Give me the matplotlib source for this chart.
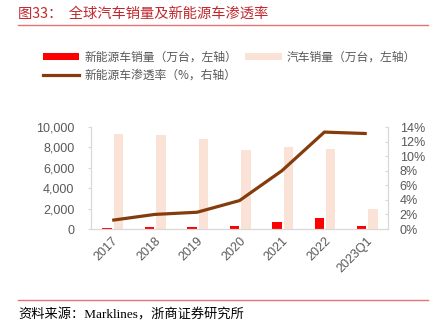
import matplotlib
matplotlib.use("Agg")
import matplotlib.pyplot as plt
import numpy as np
from matplotlib.patches import Patch
from matplotlib.lines import Line2D
from matplotlib.ticker import FuncFormatter

plt.rcParams['font.family'] = ['Liberation Sans', 'Noto Sans CJK SC', 'DejaVu Sans']

categories = ['2017', '2018', '2019', '2020', '2021', '2022', '2023Q1']
nev_sales = [120, 200, 220, 310, 650, 1050, 250]
auto_sales = [9270, 9250, 8850, 7700, 8050, 7860, 1970]
penetration = [1.2, 2.0, 2.3, 3.9, 8.0, 13.3, 13.1]

NEV_C = '#FF0000'
AUTO_C = '#FAE3D6'
LINE_C = '#843C0C'
GRAY = '#595959'
SPINE = '#D9D9D9'

fig = plt.figure(figsize=(4.47, 3.29), dpi=100)
ax = fig.add_axes([91/447, 1-229/329, 297/447, 102/329])
ax2 = ax.twinx()

x = np.arange(len(categories))
w = 0.22
ax.bar(x - 0.12, nev_sales, width=w, color=NEV_C, zorder=2)
ax.bar(x + 0.15, auto_sales, width=w, color=AUTO_C, zorder=2)
ax2.plot(x, penetration, color=LINE_C, lw=2.3, solid_capstyle='butt', zorder=3)

ax.set_xlim(-0.5, len(categories) - 0.5)
ax.set_ylim(0, 10000)
ax.set_yticks(np.arange(0, 10001, 2000))
ax.yaxis.set_major_formatter(FuncFormatter(lambda v, p: f'{int(v):,}'))
ax2.set_ylim(0, 14)
ax2.set_yticks(np.arange(0, 15, 2))
ax2.yaxis.set_major_formatter(FuncFormatter(lambda v, p: f'{int(v)}%'))

ax.set_xticks(x)
ax.set_xticklabels(categories, rotation=45, ha='right', rotation_mode='anchor')

for a in (ax, ax2):
    a.spines['top'].set_visible(False)
    for s in ('left', 'right', 'bottom'):
        a.spines[s].set_color(SPINE)
        a.spines[s].set_linewidth(0.8)
ax.tick_params(axis='y', direction='out', length=2.5, color=SPINE, labelsize=9, labelcolor=GRAY, pad=9.5)
ax.tick_params(axis='x', length=0, labelsize=9, labelcolor=GRAY, pad=4)
ax2.tick_params(axis='y', direction='in', length=2.5, color=SPINE, labelsize=9, labelcolor=GRAY, pad=8.5)

handles = [Patch(facecolor=NEV_C), Line2D([0], [0], color=LINE_C, lw=2.3),
           Patch(facecolor=AUTO_C)]
labels = ['新能源车销量（万台，左轴）', '新能源车渗透率（%，右轴）', '汽车销量（万台，左轴）']
leg = fig.legend(handles, labels, ncol=2, loc='upper left', bbox_to_anchor=(38/447, 1-46/329),
                 frameon=False, prop={'family': ['Noto Sans CJK SC'], 'size': 8.5},
                 handlelength=3.1, handleheight=0.55, handletextpad=0.4, columnspacing=0.7,
                 labelspacing=0.45, labelcolor=GRAY, borderaxespad=0)

fig.text(18/447, 1-14/329, '图33：  全球汽车销量及新能源车渗透率', color='#C0282D',
         fontsize=10.3, family=['Noto Sans CJK SC'], va='center', ha='left')
fig.add_artist(Line2D([18/447, 428/447], [1-25/329, 1-25/329], color='#E57373', lw=1))
fig.add_artist(Line2D([18/447, 428/447], [1-300/329, 1-300/329], color='#E57373', lw=1))
fig.text(18/447, 1-315/329, '资料来源：Marklines，浙商证券研究所', color='black',
         fontsize=9.5, family=['Liberation Serif', 'Noto Sans CJK SC'], va='center', ha='left')

fig.savefig('out.png', dpi=100)
